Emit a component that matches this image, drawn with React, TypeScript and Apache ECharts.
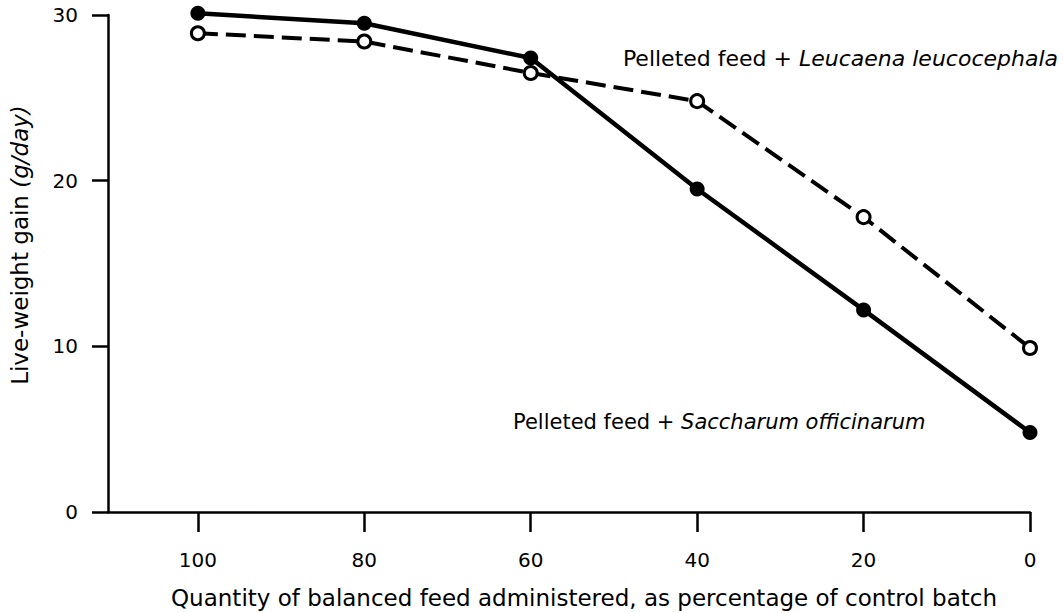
import React, { useEffect, useRef } from "react";
import * as echarts from "echarts";

const feedPercent = [100, 80, 60, 40, 20, 0];
const saccharumGain = [30.1, 29.5, 27.4, 19.5, 12.2, 4.8];
const leucaenaGain = [28.9, 28.4, 26.5, 24.8, 17.8, 9.9];
const xTicks = [0, 20, 40, 60, 80, 100];
const yTicks = [0, 10, 20, 30];

const FONT = "DejaVu Sans";

export default function App() {
  const ref = useRef<HTMLDivElement>(null);
  useEffect(() => {
    if (!ref.current) return;
    const chart = echarts.init(ref.current, undefined, { renderer: "svg" });
    const axisLineStyle = { color: "#000", width: 2.5 };
    chart.setOption({
      animation: false,
      backgroundColor: "#fff",
      textStyle: { fontFamily: FONT, color: "#000" },
      grid: { left: 108, right: 33, top: 15, bottom: 101 },
      xAxis: {
        type: "value",
        inverse: true,
        min: 0,
        max: 110.8,
        axisLine: { show: true, onZero: false, lineStyle: axisLineStyle },
        axisTick: { show: true, inside: false, length: 20, customValues: xTicks, lineStyle: axisLineStyle },
        axisLabel: { customValues: xTicks, margin: 38, fontSize: 20, color: "#000", fontFamily: FONT },
        splitLine: { show: false },
      },
      yAxis: {
        type: "value",
        position: "left",
        min: 0,
        max: 30,
        interval: 10,
        axisLine: { show: true, onZero: false, lineStyle: axisLineStyle },
        axisTick: { show: true, inside: false, length: 16, customValues: yTicks, lineStyle: axisLineStyle },
        axisLabel: { customValues: yTicks, margin: 30, fontSize: 20, color: "#000", fontFamily: FONT },
        splitLine: { show: false },
      },
      graphic: [
        {
          type: "text",
          x: 20,
          y: 245,
          rotation: Math.PI / 2,
          style: {
            text: "{n|Live-weight gain }{i|(g/day)}",
            align: "center",
            verticalAlign: "middle",
            rich: {
              n: { fontFamily: FONT, fontSize: 23, fill: "#000" },
              i: { fontFamily: FONT, fontSize: 23, fontStyle: "italic", fill: "#000" },
            },
          },
        },
        {
          type: "text",
          x: 584,
          y: 598,
          style: {
            text: "Quantity of balanced feed administered, as percentage of control batch",
            align: "center",
            verticalAlign: "middle",
            fontFamily: FONT,
            fontSize: 23,
            fill: "#000",
          },
        },
        {
          type: "text",
          x: 1058,
          y: 58,
          style: {
            text: "{n|Pelleted feed + }{i|Leucaena leucocephala}",
            align: "right",
            verticalAlign: "middle",
            rich: {
              n: { fontFamily: FONT, fontSize: 22, fill: "#000" },
              i: { fontFamily: FONT, fontSize: 22, fontStyle: "italic", fill: "#000" },
            },
          },
        },
        {
          type: "text",
          x: 513,
          y: 422,
          style: {
            text: "{n|Pelleted feed + }{i|Saccharum officinarum}",
            align: "left",
            verticalAlign: "middle",
            rich: {
              n: { fontFamily: FONT, fontSize: 21, fill: "#000" },
              i: { fontFamily: FONT, fontSize: 21, fontStyle: "italic", fill: "#000" },
            },
          },
        },
      ],
      series: [
        {
          name: "Pelleted feed + Leucaena leucocephala",
          type: "line",
          clip: false,
          data: feedPercent.map((p, i) => [p, leucaenaGain[i]]),
          symbol: "circle",
          symbolSize: 13,
          lineStyle: { color: "#000", width: 4, type: [20, 8] },
          itemStyle: { color: "#fff", borderColor: "#000", borderWidth: 3 },
          z: 2,
        },
        {
          name: "Pelleted feed + Saccharum officinarum",
          type: "line",
          clip: false,
          data: feedPercent.map((p, i) => [p, saccharumGain[i]]),
          symbol: "circle",
          symbolSize: 15,
          lineStyle: { color: "#000", width: 4.5 },
          itemStyle: { color: "#000" },
          z: 3,
        },
      ],
    });
    return () => chart.dispose();
  }, []);
  return (
    <div
      ref={ref}
      style={{ position: "absolute", left: 0, top: 0, width: 1063, height: 613 }}
    />
  );
}
